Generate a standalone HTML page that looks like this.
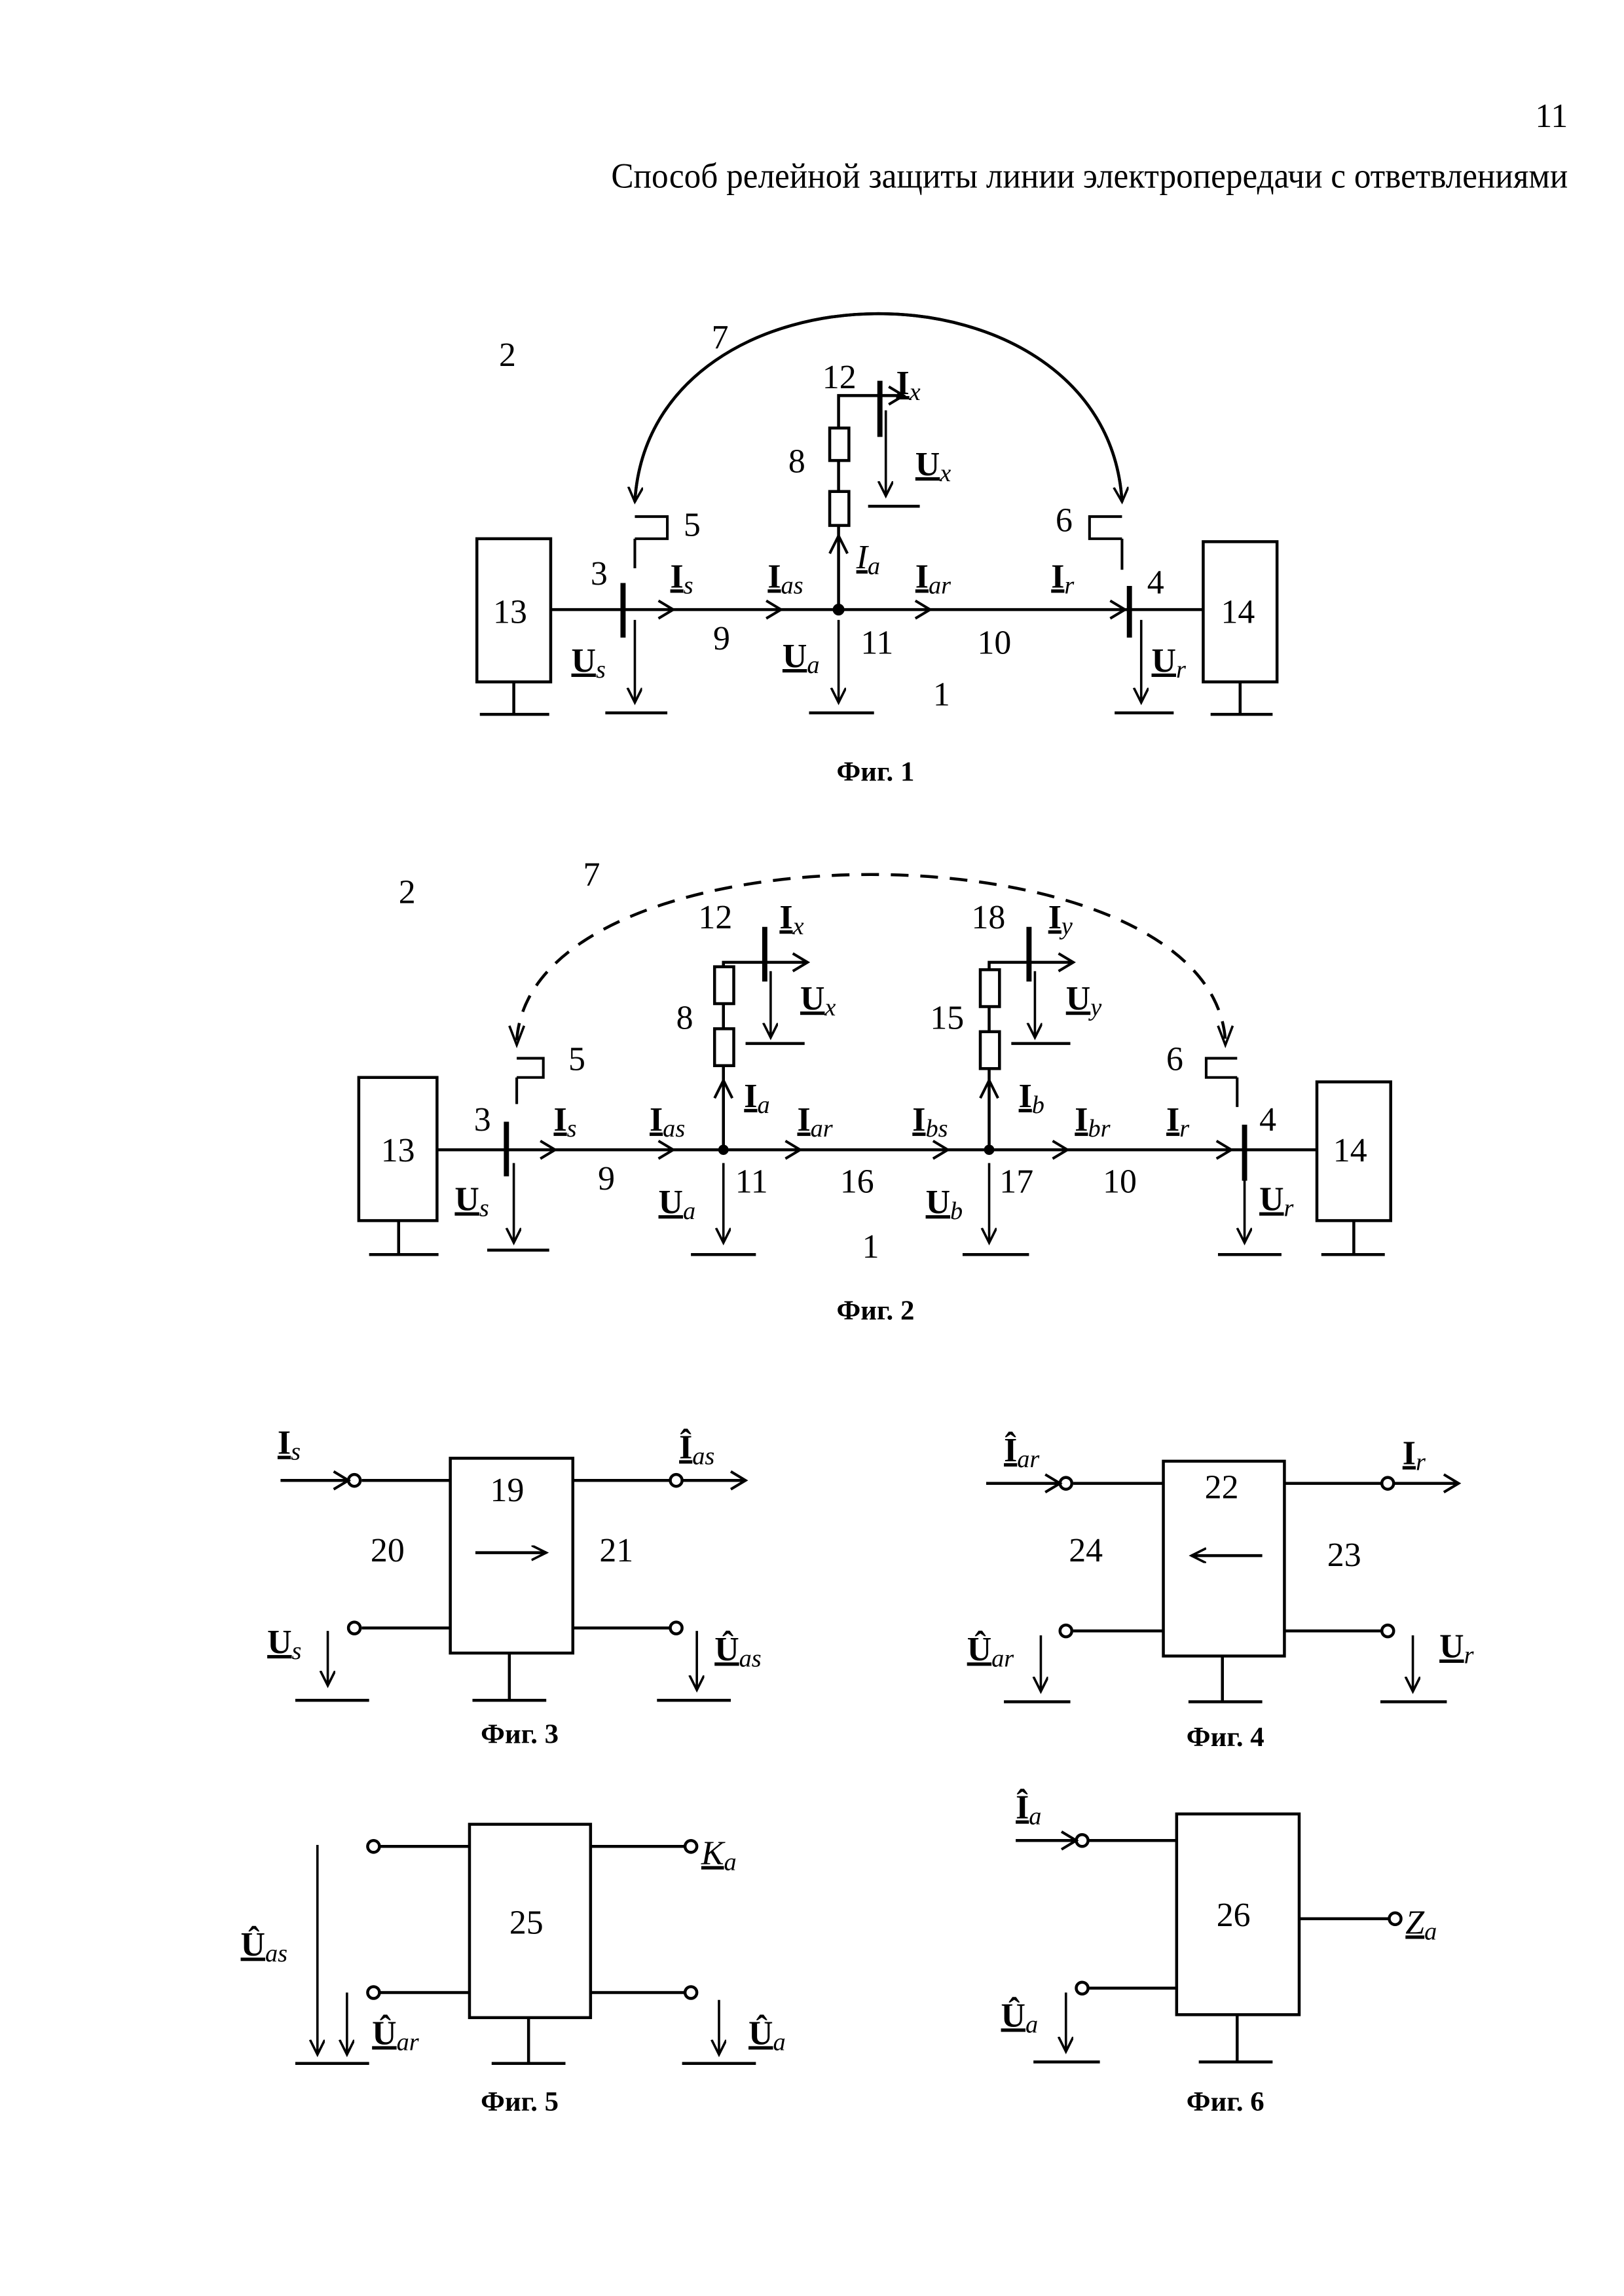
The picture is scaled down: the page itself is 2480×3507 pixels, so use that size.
<!DOCTYPE html>
<html><head><meta charset="utf-8"><style>
html,body{margin:0;padding:0;background:#fff}
svg{display:block}
text{font-family:"Liberation Serif",serif;fill:#000}
.n{font-size:23px}
.l{font-size:23px}
.b{font-weight:bold;text-decoration:underline}
.s{font-style:italic;font-size:17px}
.f{font-size:19px;font-weight:bold}
</style></head><body>
<svg width="2480" height="3507" viewBox="0 0 1100 1555.6" xmlns="http://www.w3.org/2000/svg">
<defs>
<marker id="ah" markerWidth="12" markerHeight="12" refX="10" refY="5" orient="auto" markerUnits="userSpaceOnUse">
<path d="M0,0 L10,5 L0,10" fill="none" stroke="#000" stroke-width="1.6"/></marker>
</defs>
<g stroke="#000" fill="none" stroke-width="2">

<!-- ============ FIG 1 ============ -->
<rect x="323" y="365" width="50" height="97"/>
<rect x="815" y="367" width="50" height="95"/>
<path d="M348,462V484M325,484H372M840,462V484M820,484H862"/>
<path d="M373,413H815"/>
<path d="M446,407L456,413L446,419M519,407L529,413L519,419M620,407L630,413L620,419M752,407L762,413L752,419" stroke-width="1.8"/>
<circle cx="568" cy="413" r="3" fill="#000"/>
<path d="M422,395V432M765,397V432" stroke-width="3.5"/>
<path d="M430,365V385M430,350H452V365H430" stroke-width="1.8"/>
<path d="M760,365V386M760,350H738V365H760" stroke-width="1.8"/>
<g stroke-width="1.6" marker-end="url(#ah)">
<path d="M430,420V476"/><path d="M568,420V476"/><path d="M773,420V476"/>
</g>
<path d="M410,483H452M548,483H592M755,483H795"/>
<path d="M568,413V268H612" />
<path d="M602,262L612,268L602,274" stroke-width="1.8"/>
<path d="M562,375L568,363L574,375" stroke-width="1.8"/>
<rect x="562" y="290" width="13" height="22" fill="#fff"/>
<rect x="562" y="333" width="13" height="23" fill="#fff"/>
<path d="M596,258V296" stroke-width="3.5"/>
<path d="M600,278V336" marker-end="url(#ah)" stroke-width="1.6"/>
<path d="M588,343H623"/>
<path d="M430,340C440,170 750,170 760,340" marker-end="url(#ah)"/>
<path d="M760,340C750,170 440,170 430,340" marker-end="url(#ah)"/>

<!-- ============ FIG 2 ============ -->
<rect x="243" y="730" width="53" height="97"/>
<rect x="892" y="733" width="50" height="94"/>
<path d="M270,827V850M250,850H297M917,827V850M895,850H938"/>
<path d="M296,779H892"/>
<path d="M366,773L376,779L366,785M446,773L456,779L446,785M532,773L542,779L532,785M632,773L642,779L632,785M713,773L723,779L713,785M824,773L834,779L824,785" stroke-width="1.8"/>
<circle cx="490" cy="779" r="2.5" fill="#000"/>
<circle cx="670" cy="779" r="2.5" fill="#000"/>
<path d="M343,760V797M843,762V800" stroke-width="3.5"/>
<path d="M350,730V748M350,717H368V730H350" stroke-width="1.8"/>
<path d="M838,730V750M838,717H817V730H838" stroke-width="1.8"/>
<g stroke-width="1.6" marker-end="url(#ah)">
<path d="M348,788V842"/><path d="M490,788V842"/><path d="M670,788V842"/><path d="M843,788V842"/>
</g>
<path d="M330,847H372M468,850H512M652,850H697M825,850H868"/>
<path d="M490,779V652H547"/>
<path d="M537,646L547,652L537,658" stroke-width="1.8"/>
<path d="M484,744L490,732L496,744" stroke-width="1.8"/>
<rect x="484" y="655" width="13" height="25" fill="#fff"/>
<rect x="484" y="697" width="13" height="25" fill="#fff"/>
<path d="M518,628V665" stroke-width="3.5"/>
<path d="M522,658V703" marker-end="url(#ah)" stroke-width="1.6"/>
<path d="M505,707H545"/>
<path d="M670,779V652H727"/>
<path d="M717,646L727,652L717,658" stroke-width="1.8"/>
<path d="M664,744L670,732L676,744" stroke-width="1.8"/>
<rect x="664" y="657" width="13" height="25" fill="#fff"/>
<rect x="664" y="699" width="13" height="25" fill="#fff"/>
<path d="M697,628V665" stroke-width="3.5"/>
<path d="M701,658V703" marker-end="url(#ah)" stroke-width="1.6"/>
<path d="M685,707H725"/>
<path d="M350,705C360,555 820,555 830,705" stroke-dasharray="12,8"/>
<path d="M345,695L350,708L355,695M825,695L830,708L835,695" stroke-width="1.6"/>

<!-- ============ FIG 3 ============ -->
<rect x="305" y="988" width="83" height="132"/>
<path d="M190,1003H236M245,1003H305M388,1003H454M462,1003H505"/>
<path d="M226,997L236,1003L226,1009M495,997L505,1003L495,1009" stroke-width="1.8"/>
<path d="M245,1103H305M388,1103H454"/>
<circle cx="240" cy="1003" r="4"/><circle cx="458" cy="1003" r="4"/>
<circle cx="240" cy="1103" r="4"/><circle cx="458" cy="1103" r="4"/>
<path d="M345,1120V1152M320,1152H370M200,1152H250M445,1152H495"/>
<g stroke-width="1.6" marker-end="url(#ah)">
<path d="M222,1105V1142"/><path d="M472,1105V1145"/>
</g>
<path d="M322,1052H370" marker-end="url(#ah)"/>

<!-- ============ FIG 4 ============ -->
<rect x="788" y="990" width="82" height="132"/>
<path d="M668,1005H718M727,1005H788M870,1005H936M944,1005H988"/>
<path d="M708,999L718,1005L708,1011M978,999L988,1005L978,1011" stroke-width="1.8"/>
<path d="M727,1105H788M870,1105H936"/>
<circle cx="722" cy="1005" r="4"/><circle cx="940" cy="1005" r="4"/>
<circle cx="722" cy="1105" r="4"/><circle cx="940" cy="1105" r="4"/>
<path d="M828,1122V1153M805,1153H855M680,1153H725M935,1153H980"/>
<g stroke-width="1.6" marker-end="url(#ah)">
<path d="M705,1108V1146"/><path d="M957,1108V1146"/>
</g>
<path d="M855,1054H807" marker-end="url(#ah)"/>

<!-- ============ FIG 5 ============ -->
<rect x="318" y="1236" width="82" height="131"/>
<path d="M257,1251H318M400,1251H464M257,1350H318M400,1350H464"/>
<circle cx="253" cy="1251" r="4"/><circle cx="468" cy="1251" r="4"/>
<circle cx="253" cy="1350" r="4"/><circle cx="468" cy="1350" r="4"/>
<path d="M358,1367V1398M333,1398H383M200,1398H250M462,1398H512"/>
<g stroke-width="1.6" marker-end="url(#ah)">
<path d="M215,1250V1392"/><path d="M235,1350V1392"/><path d="M487,1355V1392"/>
</g>

<!-- ============ FIG 6 ============ -->
<rect x="797" y="1229" width="83" height="136"/>
<path d="M688,1247H729M737,1247H797M880,1300H941M737,1347H797"/>
<path d="M719,1241L729,1247L719,1253" stroke-width="1.8"/>
<circle cx="733" cy="1247" r="4"/><circle cx="945" cy="1300" r="4"/><circle cx="733" cy="1347" r="4"/>
<path d="M838,1365V1397M812,1397H862M700,1397H745"/>
<path d="M722,1350V1390" marker-end="url(#ah)" stroke-width="1.6"/>
</g>

<!-- ============ TEXT ============ -->
<text x="1062" y="86" class="n" text-anchor="end">11</text>
<text x="414" y="127" font-size="24" textLength="648" lengthAdjust="spacingAndGlyphs">Способ релейной защиты линии электропередачи с ответвлениями</text>

<g class="n">
<text x="338" y="248">2</text><text x="482" y="236">7</text>
<text x="334" y="422">13</text><text x="827" y="422">14</text>
<text x="400" y="396">3</text><text x="777" y="402">4</text>
<text x="463" y="363">5</text><text x="715" y="360">6</text>
<text x="557" y="263">12</text><text x="534" y="320">8</text>
<text x="483" y="440">9</text><text x="583" y="443">11</text><text x="662" y="443">10</text><text x="632" y="478">1</text>
</g>
<g class="l">
<text x="454" y="398"><tspan class="b">I</tspan><tspan class="s" dy="4">s</tspan></text>
<text x="520" y="398"><tspan class="b">I</tspan><tspan class="s" dy="4">as</tspan></text>
<text x="580" y="385"><tspan font-style="italic" text-decoration="underline">I</tspan><tspan class="s" dy="4">a</tspan></text>
<text x="620" y="398"><tspan class="b">I</tspan><tspan class="s" dy="4">ar</tspan></text>
<text x="712" y="398"><tspan class="b">I</tspan><tspan class="s" dy="4">r</tspan></text>
<text x="607" y="267"><tspan class="b">I</tspan><tspan class="s" dy="4">x</tspan></text>
<text x="620" y="322"><tspan class="b">U</tspan><tspan class="s" dy="4">x</tspan></text>
<text x="387" y="455"><tspan class="b">U</tspan><tspan class="s" dy="4">s</tspan></text>
<text x="530" y="452"><tspan class="b">U</tspan><tspan class="s" dy="4">a</tspan></text>
<text x="780" y="455"><tspan class="b">U</tspan><tspan class="s" dy="4">r</tspan></text>
</g>
<text x="593" y="529" class="f" text-anchor="middle">Фиг. 1</text>

<g class="n">
<text x="270" y="612">2</text><text x="395" y="600">7</text>
<text x="258" y="787">13</text><text x="903" y="787">14</text>
<text x="321" y="766">3</text><text x="853" y="766">4</text>
<text x="385" y="725">5</text><text x="790" y="725">6</text>
<text x="473" y="629">12</text><text x="458" y="697">8</text>
<text x="658" y="629">18</text><text x="630" y="697">15</text>
<text x="405" y="806">9</text><text x="498" y="808">11</text><text x="569" y="808">16</text>
<text x="677" y="808">17</text><text x="747" y="808">10</text><text x="584" y="852">1</text>
</g>
<g class="l">
<text x="375" y="766"><tspan class="b">I</tspan><tspan class="s" dy="4">s</tspan></text>
<text x="440" y="766"><tspan class="b">I</tspan><tspan class="s" dy="4">as</tspan></text>
<text x="504" y="750"><tspan class="b">I</tspan><tspan class="s" dy="4">a</tspan></text>
<text x="540" y="766"><tspan class="b">I</tspan><tspan class="s" dy="4">ar</tspan></text>
<text x="618" y="766"><tspan class="b">I</tspan><tspan class="s" dy="4">bs</tspan></text>
<text x="690" y="750"><tspan class="b">I</tspan><tspan class="s" dy="4">b</tspan></text>
<text x="728" y="766"><tspan class="b">I</tspan><tspan class="s" dy="4">br</tspan></text>
<text x="790" y="766"><tspan class="b">I</tspan><tspan class="s" dy="4">r</tspan></text>
<text x="528" y="629"><tspan class="b">I</tspan><tspan class="s" dy="4">x</tspan></text>
<text x="710" y="629"><tspan class="b">I</tspan><tspan class="s" dy="4">y</tspan></text>
<text x="542" y="684"><tspan class="b">U</tspan><tspan class="s" dy="4">x</tspan></text>
<text x="722" y="684"><tspan class="b">U</tspan><tspan class="s" dy="4">y</tspan></text>
<text x="308" y="820"><tspan class="b">U</tspan><tspan class="s" dy="4">s</tspan></text>
<text x="446" y="822"><tspan class="b">U</tspan><tspan class="s" dy="4">a</tspan></text>
<text x="627" y="822"><tspan class="b">U</tspan><tspan class="s" dy="4">b</tspan></text>
<text x="853" y="820"><tspan class="b">U</tspan><tspan class="s" dy="4">r</tspan></text>
</g>
<text x="593" y="894" class="f" text-anchor="middle">Фиг. 2</text>

<g class="n">
<text x="332" y="1017">19</text><text x="251" y="1058">20</text><text x="406" y="1058">21</text>
<text x="816" y="1015">22</text><text x="724" y="1058">24</text><text x="899" y="1061">23</text>
<text x="345" y="1310">25</text><text x="824" y="1305">26</text>
</g>
<g class="l">
<text x="188" y="985"><tspan class="b">I</tspan><tspan class="s" dy="4">s</tspan></text>
<text x="460" y="988"><tspan class="b">Î</tspan><tspan class="s" dy="4">as</tspan></text>
<text x="181" y="1120"><tspan class="b">U</tspan><tspan class="s" dy="4">s</tspan></text>
<text x="484" y="1125"><tspan class="b">Û</tspan><tspan class="s" dy="4">as</tspan></text>
<text x="680" y="990"><tspan class="b">Î</tspan><tspan class="s" dy="4">ar</tspan></text>
<text x="950" y="992"><tspan class="b">I</tspan><tspan class="s" dy="4">r</tspan></text>
<text x="655" y="1125"><tspan class="b">Û</tspan><tspan class="s" dy="4">ar</tspan></text>
<text x="975" y="1123"><tspan class="b">U</tspan><tspan class="s" dy="4">r</tspan></text>
<text x="163" y="1325"><tspan class="b">Û</tspan><tspan class="s" dy="4">as</tspan></text>
<text x="252" y="1385"><tspan class="b">Û</tspan><tspan class="s" dy="4">ar</tspan></text>
<text x="475" y="1263"><tspan font-style="italic" text-decoration="underline">K</tspan><tspan class="s" dy="4">a</tspan></text>
<text x="507" y="1385"><tspan class="b">Û</tspan><tspan class="s" dy="4">a</tspan></text>
<text x="688" y="1232"><tspan class="b">Î</tspan><tspan class="s" dy="4">a</tspan></text>
<text x="952" y="1310"><tspan font-style="italic" text-decoration="underline">Z</tspan><tspan class="s" dy="4">a</tspan></text>
<text x="678" y="1373"><tspan class="b">Û</tspan><tspan class="s" dy="4">a</tspan></text>
</g>
<text x="352" y="1181" class="f" text-anchor="middle">Фиг. 3</text>
<text x="830" y="1183" class="f" text-anchor="middle">Фиг. 4</text>
<text x="352" y="1430" class="f" text-anchor="middle">Фиг. 5</text>
<text x="830" y="1430" class="f" text-anchor="middle">Фиг. 6</text>
</svg>
</body></html>
